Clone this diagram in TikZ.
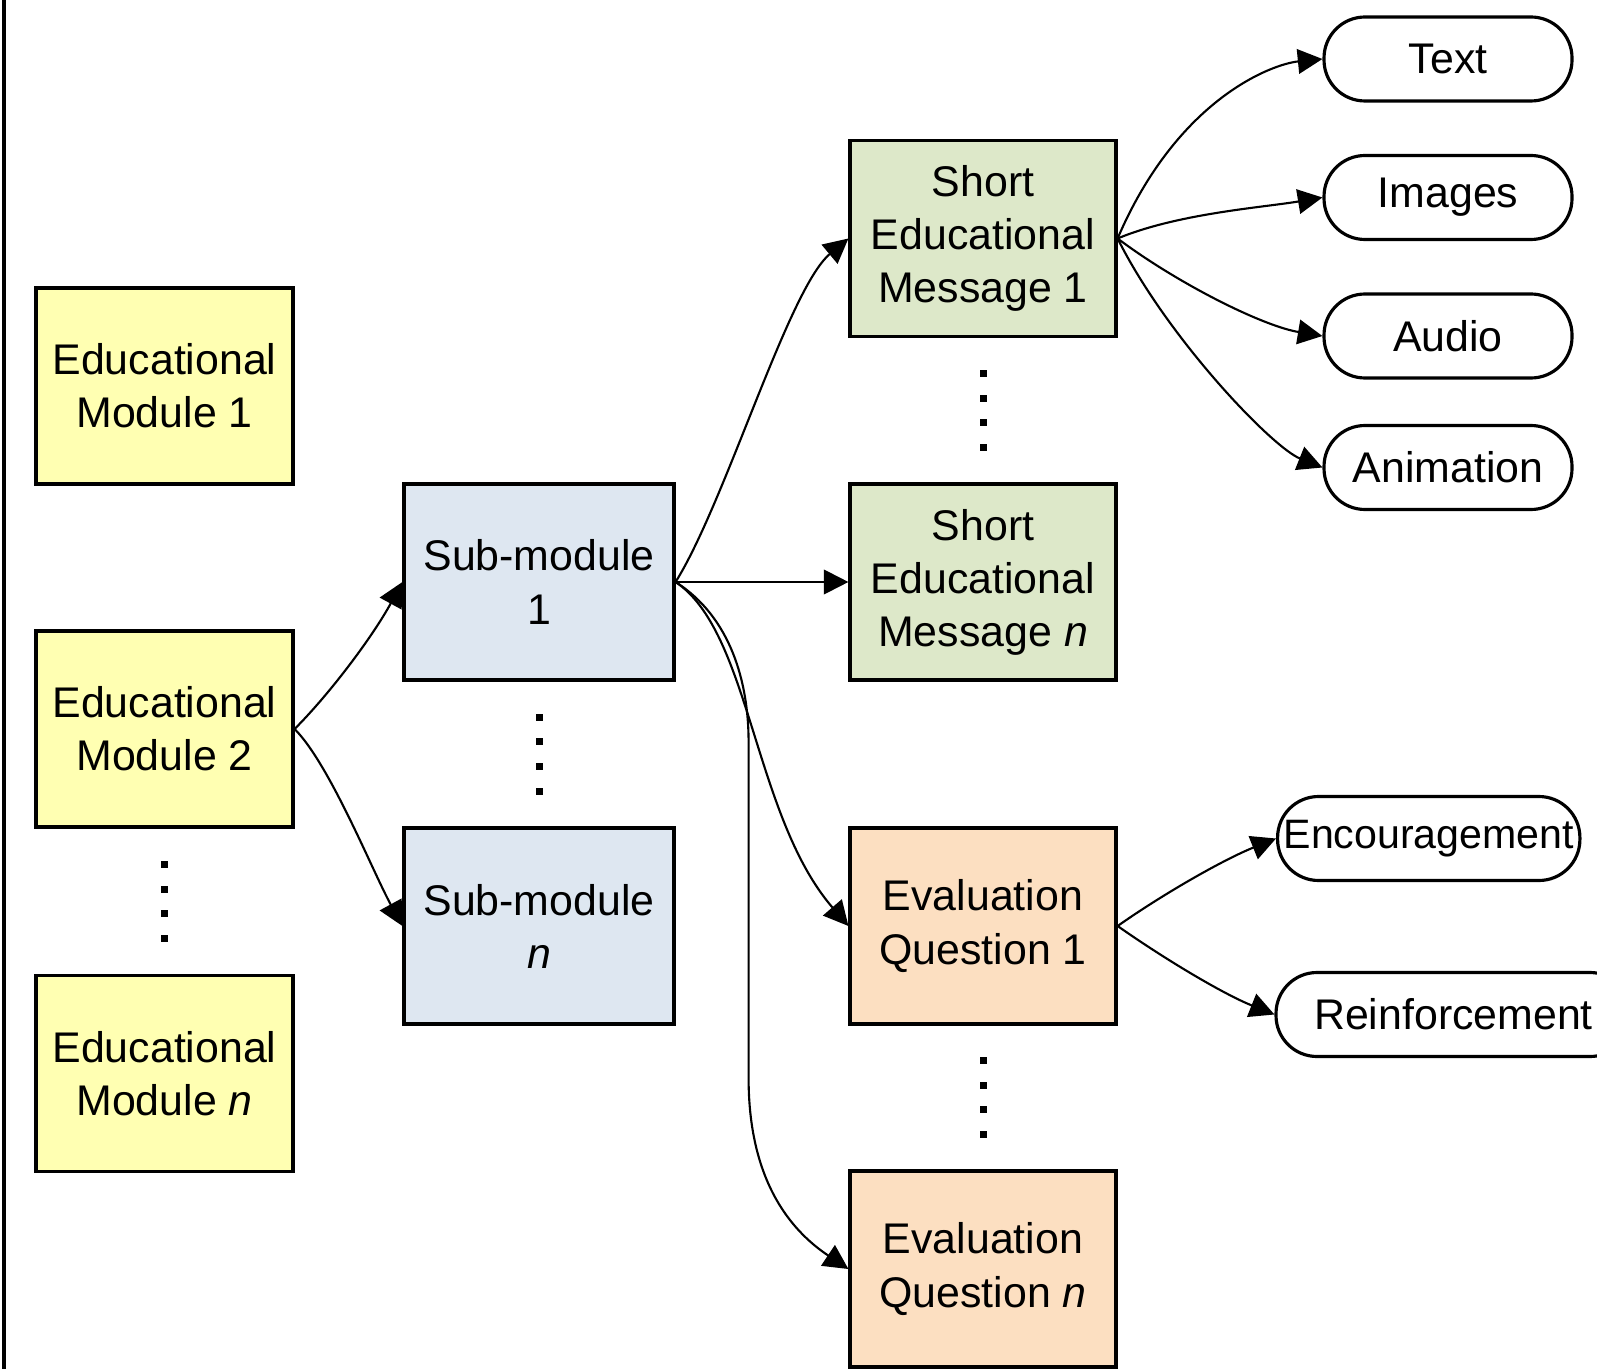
\documentclass[tikz,border=0pt]{standalone}
\usepackage{fontspec}
\setmainfont{Liberation Sans}
\usetikzlibrary{arrows.meta}

\definecolor{modyellow}{RGB}{255,255,178}
\definecolor{subblue}{RGB}{222,231,241}
\definecolor{msggreen}{RGB}{221,232,201}
\definecolor{evalorange}{RGB}{252,223,193}

\begin{document}
\begin{tikzpicture}[>={Triangle[length=7pt,width=7pt]},
  box/.style={draw, line width=0.9pt, minimum height=1.96cm, align=center,
    inner sep=1pt, font=\fontsize{12.2}{15.1}\selectfont},
  media/.style={draw, line width=0.9pt, rounded corners=0.41cm, minimum height=0.84cm,
    minimum width=2.48cm, inner sep=1pt, font=\fontsize{12.2}{15.1}\selectfont},
  link/.style={->, line width=0.6pt}]
\useasboundingbox (0,0) rectangle (15.97,-13.69);
\draw[line width=0.9pt] (0.04,0) -- (0.04,-13.69);

% modules
\node[box, fill=modyellow, minimum width=2.57cm] (EM1) at (1.645,-3.86) {Educational\\Module 1};
\node[box, fill=modyellow, minimum width=2.57cm] (EM2) at (1.645,-7.29) {Educational\\Module 2};
\node[box, fill=modyellow, minimum width=2.57cm] (EMn) at (1.645,-10.735) {Educational\\Module \textit{n}};

% sub-modules
\node[box, fill=subblue, minimum width=2.70cm] (SM1) at (5.39,-5.82) {Sub-module\\1};
\node[box, fill=subblue, minimum width=2.70cm] (SMn) at (5.39,-9.26) {Sub-module\\\textit{n}};

% messages and questions
\node[box, fill=msggreen, minimum width=2.66cm] (SEM1) at (9.83,-2.385) {Short\\Educational\\Message 1};
\node[box, fill=msggreen, minimum width=2.66cm] (SEMn) at (9.83,-5.82) {Short\\Educational\\Message \textit{n}};
\node[box, fill=evalorange, minimum width=2.66cm] (EQ1) at (9.83,-9.26) {Evaluation\\Question 1};
\node[box, fill=evalorange, minimum width=2.66cm] (EQn) at (9.83,-12.69) {Evaluation\\Question \textit{n}};

% media and feedback
\node[media] (Text) at (14.48,-0.59) {Text};
\node[media] (Images) at (14.48,-1.975) {Images};
\node[media] (Audio) at (14.48,-3.36) {Audio};
\node[media] (Anim) at (14.48,-4.675) {Animation};
\node[media, minimum width=0pt, inner xsep=0.06cm, anchor=west,
  font=\fontsize{11.7}{15}\selectfont] (Enc) at (12.76,-8.385) {Encouragement};
\node[media, minimum width=3.55cm] (Reinf) at (14.535,-10.145) {Reinforcement};

% vertical dots
\foreach \x/\y in {1.645/-9.015, 5.39/-7.54, 9.83/-4.105, 9.83/-10.975}
  \foreach \d in {-0.37,-0.123,0.123,0.37}
    \fill (\x-0.035,\y+\d-0.035) rectangle ++(0.07,0.07);

\draw[link] (EM2.east) .. controls +(0.35,0.35) and +(-0.3,-0.55) .. (SM1.west);
\draw[link] (EM2.east) .. controls +(0.35,-0.35) and +(-0.3,0.55) .. (SMn.west);

\draw[link] (SM1.east) .. controls +(0.5,0.8) and +(-0.6,-0.5) .. (SEM1.west);
\draw[link] (SM1.east) -- (SEMn.west);
\draw[link] (SM1.east) .. controls +(0.75,-0.5) and +(-0.95,1.1) .. (EQ1.west);
\draw[link] (SM1.east) .. controls +(0.55,-0.35) and +(0,0.6) .. ++(0.73,-1.6)
  -- ++(0,-3.36) .. controls +(0,-1.0) and +(-0.6,0.4) .. (EQn.west);

\draw[link] (SEM1.east) .. controls +(0.6,1.4) and +(-0.5,-0.05) .. (Text.west);
\draw[link] (SEM1.east) .. controls +(0.6,0.25) and +(-0.6,-0.1) .. (Images.west);
\draw[link] (SEM1.east) .. controls +(0.6,-0.45) and +(-0.6,0.1) .. (Audio.west);
\draw[link] (SEM1.east) .. controls +(0.5,-1.0) and +(-0.5,0.2) .. (Anim.west);

\draw[link] (EQ1.east) .. controls +(0.5,0.35) and +(-0.5,-0.2) .. (Enc.west);
\draw[link] (EQ1.east) .. controls +(0.5,-0.35) and +(-0.5,0.2) .. (Reinf.west);
\end{tikzpicture}
\end{document}
